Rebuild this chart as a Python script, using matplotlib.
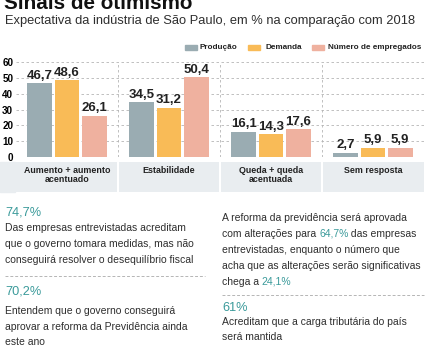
import matplotlib
matplotlib.use("Agg")
import matplotlib.pyplot as plt
from matplotlib.patches import Rectangle
from matplotlib.lines import Line2D
import numpy as np

# -----------------------
# Data
# -----------------------
categories = ["Aumento + aumento\nacentuado", "Estabilidade", "Queda + queda\nacentuada", "Sem resposta"]
series_names = ["Produção", "Demanda", "Número de empregados"]
producao = [46.7, 34.5, 16.1, 2.7]
demanda = [48.6, 31.2, 14.3, 5.9]
empregados = [26.1, 50.4, 17.6, 5.9]
y_ticks = [0, 10, 20, 30, 40, 50, 60]

colors = ["#9aacb2", "#f9bb57", "#efb19f"]
TEAL = "#3a9a9a"
DARK = "#2e2e2e"
BAND = "#e9edf0"
GRID = "#b5b5b5"
FONT = "Liberation Sans"

W, H = 427, 350


def fx(x):
    return x / W


def fy(y):
    return 1 - y / H


fig = plt.figure(figsize=(W / 100, H / 100), dpi=100)
renderer = fig.canvas.get_renderer()


def size_for(s, target_px, weight="normal"):
    # font size that makes the string target_px wide
    t = fig.text(0, 0, s, fontsize=10, family=FONT, fontweight=weight)
    w = t.get_window_extent(renderer).width
    t.remove()
    return 10 * target_px / w


BODY = min(size_for("conseguirá resolver o desequilíbrio fiscal", 198),
           size_for("acha que as alterações serão significativas", 199))
HEAD = size_for("74,7%", 36)
VAL = size_for("46,7", 26, "bold")
CAT = size_for("Aumento + aumento", 86, "bold")
LEG = size_for("Número de empregados", 94, "bold")
TICK = size_for("60", 11, "bold")

# -----------------------
# Bars
# -----------------------
ax = fig.add_axes([fx(16), fy(157), 408 / W, 95 / H])
x = np.arange(len(categories))
width = 0.245
offsets = [-0.265, 0, 0.265]
for vals, c, off in zip([producao, demanda, empregados], colors, offsets):
    bars = ax.bar(x + off, vals, width, color=c, zorder=2)
    for b, v in zip(bars, vals):
        ax.annotate(f"{v:.1f}".replace(".", ","), (b.get_x() + b.get_width() / 2, v),
                    xytext=(0, 1), textcoords="offset points", ha="center", va="bottom",
                    fontsize=VAL, fontweight="bold", family=FONT, color="#222222")

ax.set_xlim(-0.5, 3.5)
ax.set_ylim(0, 60)
ax.set_yticks(y_ticks)
ax.set_xticks([])
for yv in y_ticks:
    ax.axhline(yv, color=GRID, lw=0.6, ls=(0, (3, 3)), zorder=1)
for xv in [0.5, 1.5, 2.5, 3.5]:
    ax.axvline(xv, color=GRID, lw=0.6, ls=(0, (3, 3)), zorder=1)
for s in ax.spines.values():
    s.set_visible(False)
ax.tick_params(axis="y", length=0, pad=2, labelsize=TICK)
for lab in ax.get_yticklabels():
    lab.set_fontweight("bold")
    lab.set_family(FONT)

# category band
bax = fig.add_axes([fx(16), fy(192), 408 / W, 30 / H])
bax.set_facecolor(BAND)
bax.set_xlim(-0.5, 3.5)
bax.set_ylim(0, 1)
bax.set_xticks([])
bax.set_yticks([])
for s in bax.spines.values():
    s.set_visible(False)
for xv in [0.5, 1.5, 2.5]:
    bax.axvline(xv, color="white", lw=1.5)
for i, cat in enumerate(categories):
    bax.text(i, 0.88, cat, ha="center", va="top", fontsize=CAT, fontweight="bold",
             family=FONT, color="#222222", linespacing=1.1)
fig.patches.append(Rectangle((0, fy(192)), fx(15), 30 / H, color=BAND,
                             transform=fig.transFigure, figure=fig))

# -----------------------
# Title, subtitle, legend
# -----------------------
tax = fig.add_axes([0, 0, 1, 1])
tax.axis("off")
tax.set_xlim(0, 1)
tax.set_ylim(0, 1)

tax.text(fx(4), fy(9), "Sinais de otimismo", fontsize=size_for("Sinais de otimismo", 188, "bold"),
         fontweight="bold", family=FONT, va="baseline", color="#111111")
subtitle = "Expectativa da indústria de São Paulo, em % na comparação com 2018"
tax.text(fx(5), fy(21), subtitle, fontsize=size_for(subtitle, 413), family=FONT,
         va="center", color=DARK)

legend_pos = [(185, 200), (248, 265), (312, 328)]
for name, c, (sx, tx) in zip(series_names, colors, legend_pos):
    tax.add_patch(Rectangle((fx(sx), fy(50)), 12 / W, 5 / H, color=c))
    tax.text(fx(tx), fy(47.5), name, fontsize=LEG, fontweight="bold", family=FONT,
             va="center", color="#222222")


# -----------------------
# Bottom notes
# -----------------------
def rich_line(xp, yp, parts, size=BODY):
    prev = None
    for s, c in parts:
        if prev is None:
            prev = tax.text(fx(xp), fy(yp), s, color=c, fontsize=size, family=FONT, va="center")
        else:
            prev = tax.annotate(s, xy=(1, 0), xycoords=prev, va="bottom", ha="left",
                                color=c, fontsize=size, family=FONT)


# left column
rich_line(5, 212, [("74,7%", TEAL)], size=HEAD)
rich_line(5, 228, [("Das empresas entrevistadas acreditam", DARK)])
rich_line(5, 244, [("que o governo tomara medidas, mas não", DARK)])
rich_line(5, 260, [("conseguirá resolver o desequilíbrio fiscal", DARK)])
tax.add_line(Line2D([fx(5), fx(205)], [fy(276), fy(276)], color=GRID, lw=0.7, ls=(0, (3, 2))))
rich_line(5, 292, [("70,2%", TEAL)], size=HEAD)
rich_line(5, 311, [("Entendem que o governo conseguirá", DARK)])
rich_line(5, 327, [("aprovar a reforma da Previdência ainda", DARK)])
rich_line(5, 342, [("este ano", DARK)])

# right column
rich_line(222, 218, [("A reforma da previdência será aprovada", DARK)])
rich_line(222, 234, [("com alterações para ", DARK), ("64,7%", TEAL), (" das empresas", DARK)])
rich_line(222, 250, [("entrevistadas, enquanto o número que", DARK)])
rich_line(222, 266, [("acha que as alterações serão significativas", DARK)])
rich_line(222, 282, [("chega a ", DARK), ("24,1%", TEAL)])
tax.add_line(Line2D([fx(222), fx(424)], [fy(295), fy(295)], color=GRID, lw=0.7, ls=(0, (3, 2))))
rich_line(222, 308, [("61%", TEAL)], size=HEAD)
rich_line(222, 322, [("Acreditam que a carga tributária do país", DARK)])
rich_line(222, 337, [("será mantida", DARK)])

fig.savefig("out.png", dpi=100)
